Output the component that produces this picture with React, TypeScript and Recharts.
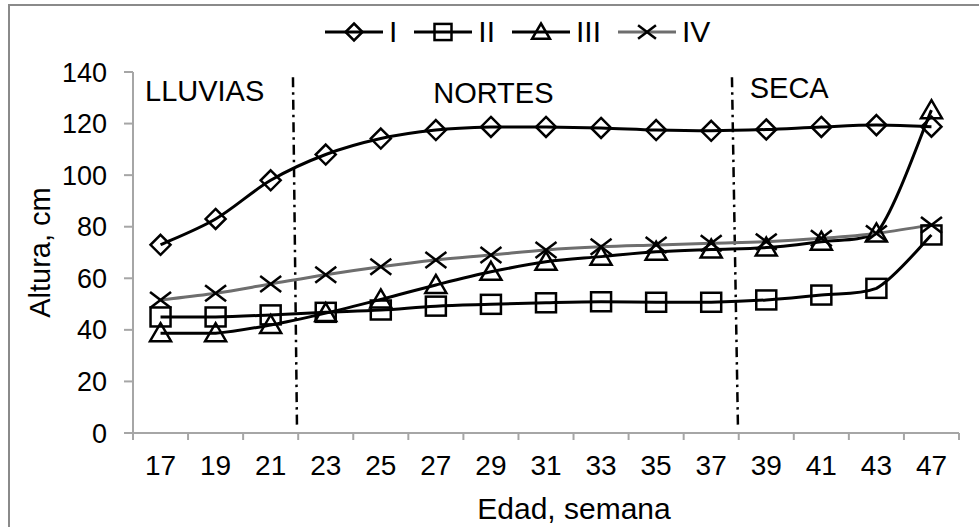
import React from 'react';
import { LineChart, Line, XAxis, YAxis, ReferenceLine, ReferenceArea, Legend } from 'recharts';

// Edad (semanas) y altura (cm) de los cuatro grupos
const weeks = ['17', '19', '21', '23', '25', '27', '29', '31', '33', '35', '37', '39', '41', '43', '47'];
const serieI = [73, 83, 98, 108, 114.2, 117.5, 118.7, 118.7, 118.3, 117.5, 117.2, 117.7, 118.7, 119.4, 118.8];
const serieII = [45, 45, 45.8, 46.8, 47.7, 49.2, 49.9, 50.5, 50.9, 50.7, 50.7, 51.6, 53.5, 56.1, 76.8];
const serieIII = [38.7, 38.7, 41.9, 46.5, 51.8, 57.4, 62.5, 66.4, 68.4, 70.3, 71.2, 71.9, 74.2, 77.4, 125.2];
const serieIV = [51.6, 54.2, 57.8, 61.4, 64.5, 67.1, 69, 71, 72.2, 72.9, 73.6, 74.2, 75.5, 77.4, 80.7];
const yTicks = [0, 20, 40, 60, 80, 100, 120, 140];

const seasons = [
  { name: 'LLUVIAS', from: 0, to: 3, dx: 12, dy: 29 },
  { name: 'NORTES', from: 3, to: 11, dx: 135, dy: 31 },
  { name: 'SECA', from: 11, to: 15, dx: 11, dy: 26 },
];
// separadores de estación (trazados a mano, un poco inclinados)
const dividers = [
  [{ x: 2.905, y: 138 }, { x: 2.978, y: 2 }],
  [{ x: 10.877, y: 138 }, { x: 10.986, y: 2 }],
];

const data = weeks.map((w, i) => ({
  pos: i + 0.5,
  week: w,
  I: serieI[i],
  II: serieII[i],
  III: serieIII[i],
  IV: serieIV[i],
}));

const xTicks = Array.from({ length: weeks.length * 2 + 1 }, (_, k) => k / 2);

const FONT = '"Liberation Sans", Arial, sans-serif';
const AXIS = '#a6a6a6';

const clamp = (v: number, a: number, b: number) => Math.max(Math.min(a, b), Math.min(Math.max(a, b), v));

// suavizado tipo Excel (Catmull-Rom -> Bézier, sin sobrepasar cada tramo)
const smoothCurve = (context: any) => {
  let pts: number[][] = [];
  return {
    areaStart() {},
    areaEnd() {},
    lineStart() {
      pts = [];
    },
    point(x: number, y: number) {
      pts.push([+x, +y]);
    },
    lineEnd() {
      if (!pts.length) return;
      context.moveTo(pts[0][0], pts[0][1]);
      for (let i = 0; i < pts.length - 1; i++) {
        const p0 = pts[i - 1] || pts[i];
        const p1 = pts[i];
        const p2 = pts[i + 1];
        const p3 = pts[i + 2] || p2;
        context.bezierCurveTo(
          p1[0] + (p2[0] - p0[0]) / 6,
          clamp(p1[1] + (p2[1] - p0[1]) / 6, p1[1], p2[1]),
          p2[0] - (p3[0] - p1[0]) / 6,
          clamp(p2[1] - (p3[1] - p1[1]) / 6, p1[1], p2[1]),
          p2[0],
          p2[1]
        );
      }
    },
  };
};

type Shape = 'diamond' | 'square' | 'triangle' | 'x';

const Marker = ({ cx, cy, shape, r = 10 }: { cx: number; cy: number; shape: Shape; r?: number }) => {
  const common = { fill: 'none', stroke: '#000', strokeWidth: 2.5 };
  if (shape === 'diamond')
    return <polygon points={`${cx},${cy - r} ${cx + r},${cy} ${cx},${cy + r} ${cx - r},${cy}`} {...common} />;
  if (shape === 'square')
    return <rect x={cx - r} y={cy - r * 0.95} width={r * 2} height={r * 1.9} {...common} />;
  if (shape === 'triangle')
    return <polygon points={`${cx},${cy - r} ${cx + r * 1.05},${cy + r * 0.8} ${cx - r * 1.05},${cy + r * 0.8}`} {...common} />;
  return (
    <g {...common}>
      <line x1={cx - r * 1.05} y1={cy - r * 0.8} x2={cx + r * 1.05} y2={cy + r * 0.8} />
      <line x1={cx - r * 1.05} y1={cy + r * 0.8} x2={cx + r * 1.05} y2={cy - r * 0.8} />
    </g>
  );
};

const series: { key: string; shape: Shape; color: string }[] = [
  { key: 'I', shape: 'diamond', color: '#000' },
  { key: 'II', shape: 'square', color: '#000' },
  { key: 'III', shape: 'triangle', color: '#000' },
  { key: 'IV', shape: 'x', color: '#6e6e6e' },
];

const XTick = (props: any) => {
  const { x, y, payload } = props;
  const v = payload.value;
  if (Number.isInteger(v)) return <line x1={x} y1={y} x2={x} y2={y + 7} stroke={AXIS} strokeWidth={2} />;
  return (
    <text x={x} y={y + 42} textAnchor="middle" fontSize={28} fill="#000" fontFamily={FONT}>
      {weeks[Math.floor(v)]}
    </text>
  );
};

const LegendContent = () => (
  <div style={{ display: 'flex', alignItems: 'center', height: 30, fontSize: 30, lineHeight: '30px', fontFamily: FONT, color: '#000' }}>
    {series.map((s) => (
      <div key={s.key} style={{ display: 'flex', alignItems: 'center', marginRight: 17 }}>
        <svg width={58} height={30}>
          <line x1={0} y1={15} x2={58} y2={15} stroke={s.color} strokeWidth={3} />
          <Marker cx={29} cy={15} shape={s.shape} r={8.5} />
        </svg>
        <span style={{ marginLeft: 6 }}>{s.key}</span>
      </div>
    ))}
  </div>
);

const seasonLabel = (name: string, dx: number, dy: number) => (props: any) => {
  const vb = props.viewBox;
  return (
    <text x={vb.x + dx} y={vb.y + dy} fontSize={29} fill="#000" fontFamily={FONT}>
      {name}
    </text>
  );
};

const yTitle = (props: any) => {
  const vb = props.viewBox;
  const cx = vb.x + 40;
  const cy = vb.y + vb.height / 2;
  return (
    <text x={cx} y={cy} transform={`rotate(-90 ${cx} ${cy})`} textAnchor="middle" dominantBaseline="central" fontSize={29} fill="#000" fontFamily={FONT}>
      Altura, cm
    </text>
  );
};

const xTitle = (props: any) => {
  const vb = props.viewBox;
  return (
    <text x={vb.x + vb.width / 2 + 28} y={vb.y + 86} textAnchor="middle" fontSize={30} fill="#000" fontFamily={FONT}>
      Edad, semana
    </text>
  );
};

export default function App() {
  return (
    <div style={{ position: 'absolute', left: 0, top: 0, width: 979, height: 527, overflow: 'hidden', background: '#fff', fontFamily: FONT }}>
      <div style={{ position: 'absolute', left: 8, top: 4, width: 1200, height: 800, border: '2.5px solid #8a8a8a' }} />
      <div style={{ position: 'absolute', left: 0, top: 0 }}>
        <LineChart width={979} height={527} data={data} margin={{ top: 72, right: 20, bottom: 0, left: 0 }}>
          <XAxis
            type="number"
            dataKey="pos"
            domain={[0, 15]}
            ticks={xTicks}
            interval={0}
            height={94}
            tickSize={0}
            tickMargin={0}
            tickLine={false}
            tick={<XTick />}
            axisLine={{ stroke: AXIS, strokeWidth: 2 }}
            label={{ content: xTitle }}
          />
          <YAxis
            type="number"
            domain={[0, 140]}
            ticks={yTicks}
            interval={0}
            width={133}
            tickSize={9}
            tickMargin={17}
            tickLine={{ stroke: AXIS, strokeWidth: 2 }}
            axisLine={{ stroke: AXIS, strokeWidth: 2 }}
            tick={{ fontSize: 27, fill: '#000', fontFamily: FONT }}
            label={{ content: yTitle }}
          />
          {seasons.map((s) => (
            <ReferenceArea
              key={s.name}
              x1={s.from}
              x2={s.to}
              y1={0}
              y2={140}
              fill="none"
              fillOpacity={0}
              stroke="none"
              label={{ content: seasonLabel(s.name, s.dx, s.dy) }}
            />
          ))}
          {dividers.map((seg, i) => (
            <ReferenceLine key={i} segment={seg} stroke="#000" strokeWidth={2.5} strokeDasharray="10 5 2.5 5" />
          ))}
          <Legend
            layout="horizontal"
            verticalAlign="middle"
            align="center"
            wrapperStyle={{ top: 17, left: 325, width: 420 }}
            content={() => <LegendContent />}
          />
          {series.map((s) => (
            <Line
              key={s.key}
              type={smoothCurve as any}
              dataKey={s.key}
              stroke={s.color}
              strokeWidth={3}
              isAnimationActive={false}
              dot={(p: any) => <Marker key={`${s.key}-${p.index}`} cx={p.cx} cy={p.cy} shape={s.shape} />}
              activeDot={false}
            />
          ))}
        </LineChart>
      </div>
    </div>
  );
}
